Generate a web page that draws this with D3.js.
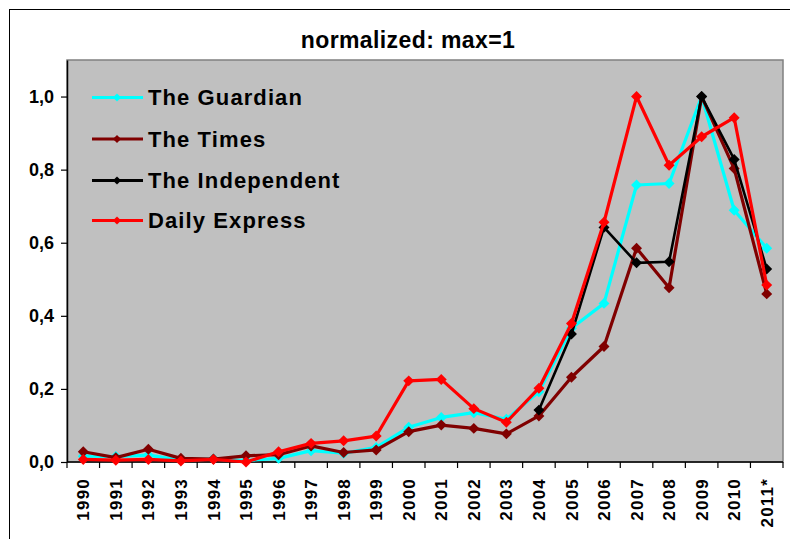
<!DOCTYPE html>
<html>
<head>
<meta charset="utf-8">
<script src="https://cdn.jsdelivr.net/npm/d3@7"></script>
<style>
  body { margin: 0; background: #fff; }
  text { font-family: "Liberation Sans", Arial, sans-serif; font-weight: bold; fill: #000; }
</style>
</head>
<body>
<svg width="790" height="539"></svg>
<script>
var years = ["1990","1991","1992","1993","1994","1995","1996","1997","1998","1999","2000",
             "2001","2002","2003","2004","2005","2006","2007","2008","2009","2010","2011*"];

var guardian = [0.016,0.015,0.019,0.005,0.008,0.004,0.010,0.031,0.024,0.040,0.095,
                0.122,0.135,0.117,0.192,0.366,0.434,0.758,0.762,1.0,0.689,0.585];
var times = [0.028,0.012,0.035,0.010,0.008,0.017,0.020,0.044,0.026,0.033,0.083,
             0.101,0.092,0.077,0.126,0.232,0.316,0.585,0.477,1.0,0.803,0.460];
var independent = [null,null,null,null,null,null,null,null,null,null,null,
                   null,null,null,0.142,0.350,0.642,0.545,0.548,1.0,0.828,0.528];
var express = [0.007,0.005,0.007,0.003,0.007,0.0,0.028,0.051,0.058,0.071,0.222,
               0.226,0.146,0.109,0.202,0.379,0.656,1.0,0.812,0.890,0.942,0.484];

var seriesNames = ["The Guardian","The Times","The Independent","Daily Express"];
var seriesColors = ["#00ffff","#800000","#000000","#ff0000"];
var yTicks = [0,0.2,0.4,0.6,0.8,1.0];

var svg = d3.select("svg");
var plotL = 67, plotR = 783, plotT = 60, plotB = 462;

// outer frame
svg.append("rect")
  .attr("x",9.5).attr("y",9.5).attr("width",800).attr("height",560)
  .attr("fill","#fff").attr("stroke","#000").attr("stroke-width",1);

var x = d3.scaleBand().domain(years).range([plotL,plotR]).padding(0);
var y = d3.scaleLinear().domain([0,1.1]).range([plotB,plotT]);

// plot area
svg.append("rect")
  .attr("x",plotL).attr("y",plotT).attr("width",plotR-plotL).attr("height",plotB-plotT)
  .attr("fill","#c0c0c0").attr("stroke","#808080").attr("stroke-width",1.5);

// title
svg.append("text")
  .attr("x",408).attr("y",48)
  .attr("text-anchor","middle")
  .style("font-size","23px").style("letter-spacing","0.4px")
  .text("normalized: max=1");

// y axis
var yAxis = svg.append("g")
  .attr("transform","translate("+plotL+",0)")
  .call(d3.axisLeft(y)
    .tickValues(yTicks)
    .tickFormat(function(d){ return d3.format(".1f")(d).replace(".",","); })
    .tickSize(6).tickPadding(7).tickSizeOuter(0));
yAxis.select(".domain").attr("stroke","#000").attr("stroke-width",1.5);
yAxis.selectAll("line").attr("stroke","#000").attr("stroke-width",1.2);
yAxis.selectAll("text").style("font-size","18px").attr("font-family",null);

// x axis
var xg = svg.append("g");
xg.append("line")
  .attr("x1",plotL).attr("x2",plotR).attr("y1",plotB).attr("y2",plotB)
  .attr("stroke","#000").attr("stroke-width",1.5);
xg.selectAll(".tick")
  .data(years.concat(["end"]))
  .enter().append("line")
  .attr("x1",function(d){ return d=="end" ? plotR : x(d); })
  .attr("x2",function(d){ return d=="end" ? plotR : x(d); })
  .attr("y1",plotB).attr("y2",plotB+6)
  .attr("stroke","#000").attr("stroke-width",1.2);
xg.selectAll(".lbl")
  .data(years)
  .enter().append("text")
  .attr("transform",function(d){ return "translate("+(x(d)+x.bandwidth()/2)+",478) rotate(-90)"; })
  .attr("text-anchor","end")
  .attr("dy","0.36em")
  .style("font-size","17px").style("letter-spacing","1.2px")
  .text(function(d){ return d; });

// series
var allSeries = [guardian,times,independent,express];
var line = d3.line()
  .defined(function(d){ return d != null; })
  .x(function(d,i){ return x(years[i]) + x.bandwidth()/2; })
  .y(function(d){ return y(d); });
var diamond = d3.symbol().type(d3.symbolSquare).size(60);

allSeries.forEach(function(s,k){
  var g = svg.append("g");
  g.append("path")
    .datum(s)
    .attr("d",line)
    .attr("fill","none")
    .attr("stroke",seriesColors[k])
    .attr("stroke-width",k==2 ? 2.6 : 3.2)
    .attr("stroke-linejoin","round");
  g.selectAll("path.m")
    .data(s.map(function(v,i){ return {v:v,i:i}; }).filter(function(d){ return d.v != null; }))
    .enter().append("path")
    .attr("class","m")
    .attr("d",diamond)
    .attr("transform",function(d){ return "translate("+(x(years[d.i])+x.bandwidth()/2)+","+y(d.v)+") rotate(45)"; })
    .attr("fill",seriesColors[k]);
});

// legend
var legendY = [97.5,139,180.5,220.5];
var lg = svg.append("g");
seriesNames.forEach(function(name,k){
  lg.append("line")
    .attr("x1",92).attr("x2",143).attr("y1",legendY[k]).attr("y2",legendY[k])
    .attr("stroke",seriesColors[k]).attr("stroke-width",3.2);
  lg.append("path")
    .attr("d",d3.symbol().type(d3.symbolSquare).size(34))
    .attr("transform","translate(117,"+legendY[k]+") rotate(45)")
    .attr("fill",seriesColors[k]);
  lg.append("text")
    .attr("x",148).attr("y",legendY[k])
    .attr("dy","0.35em")
    .style("font-size","22px").style("letter-spacing","1.1px")
    .text(name);
});
</script>
</body>
</html>
